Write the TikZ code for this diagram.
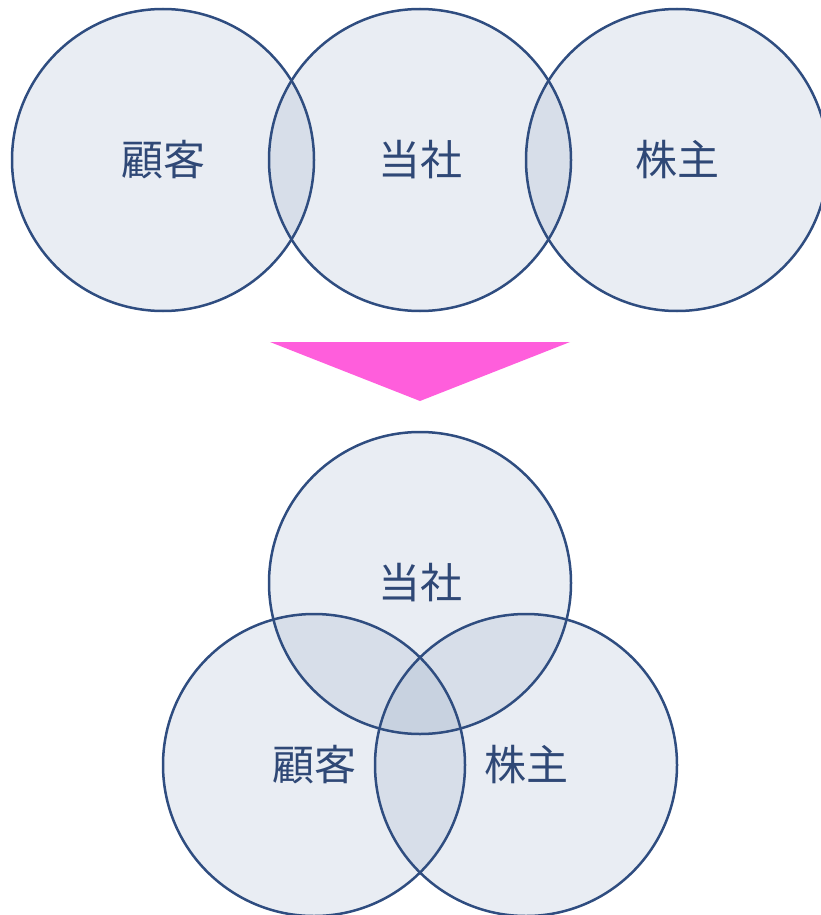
\documentclass[tikz,border=0pt]{standalone}
\usepackage{fontspec}
\newfontfamily\cjk{Noto Sans CJK JP}
\definecolor{tint}{RGB}{134,156,187}
\definecolor{edge}{RGB}{47,77,128}
\definecolor{txt}{RGB}{47,72,118}
\definecolor{pinkarrow}{RGB}{255,94,220}
\tikzset{
  disk/.style={circle, minimum size=302pt, inner sep=0pt, fill=tint, fill opacity=0.18, draw=none},
  ring/.style={draw=edge, line width=2.5pt},
  lbl/.style={font=\cjk\fontsize{42}{44}\selectfont, text=txt, inner sep=0pt}
}
\begin{document}
\begin{tikzpicture}[x=1pt,y=-1pt]
\useasboundingbox (0,0) rectangle (821,915);
% top row
\node[disk] (a1) at (163,160) {};
\node[disk] (a2) at (420,160) {};
\node[disk] (a3) at (677,160) {};
% bottom
\node[disk] (b1) at (420,583) {};
\node[disk] (b2) at (314,765) {};
\node[disk] (b3) at (526,765) {};
\foreach \n in {a1,a2,a3,b1,b2,b3}{
  \draw[ring] (\n.center) circle[radius=151];
}
\node[lbl] (t1) at (a1) {顧客};
\node[lbl] (t2) at (a2) {当社};
\node[lbl] (t3) at (a3) {株主};
\node[lbl] (u1) at (b1) {当社};
\node[lbl] (u2) at (b2) {顧客};
\node[lbl] (u3) at (b3) {株主};
% arrow
\coordinate (p1) at (270,342);
\coordinate (p2) at (570,342);
\coordinate (p3) at (420,401);
\fill[pinkarrow] (p1) -- (p2) -- (p3) -- cycle;
\end{tikzpicture}
\end{document}
